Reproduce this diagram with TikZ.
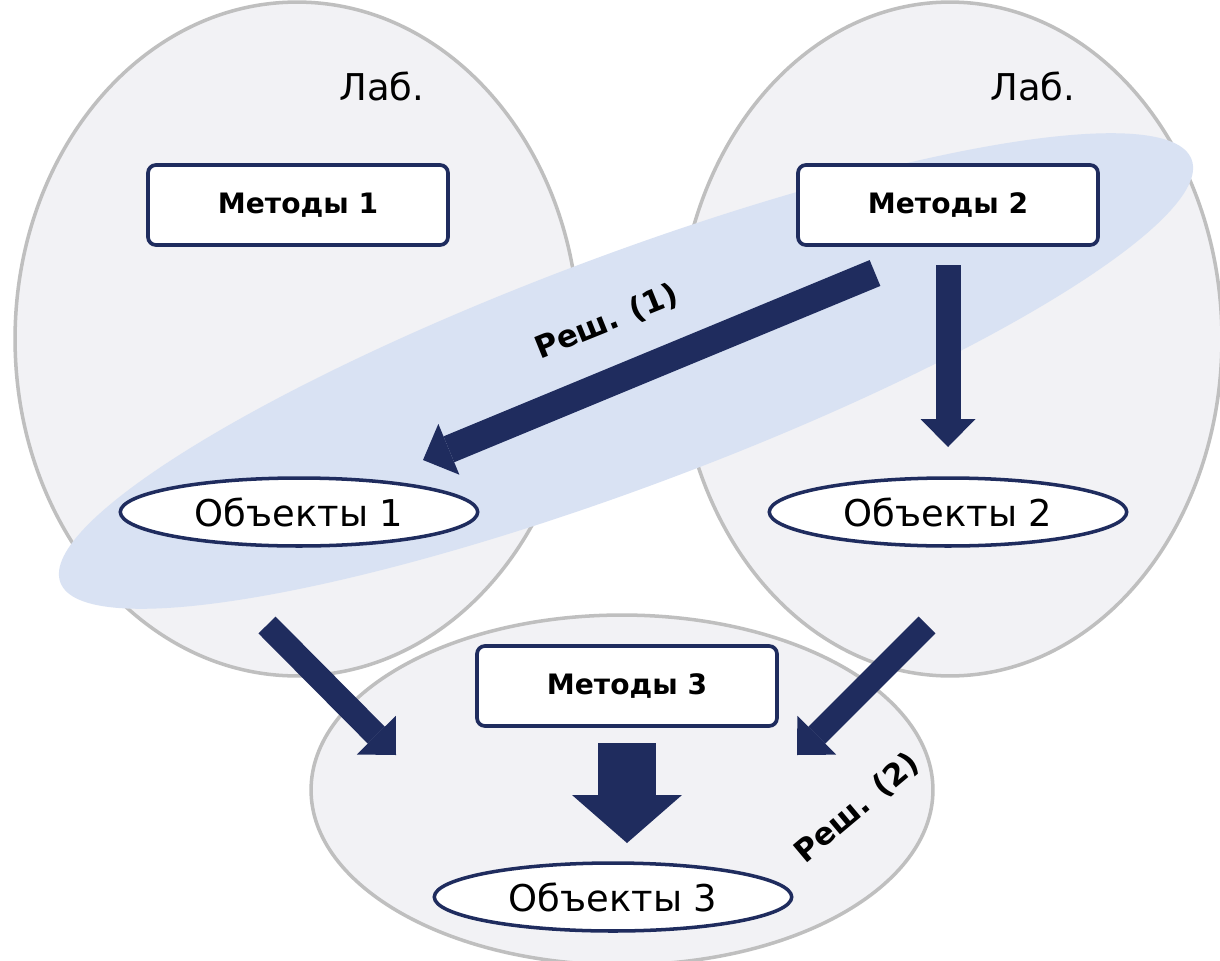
\documentclass[tikz,border=0pt]{standalone}
\usepackage{fontspec}
\setmainfont{DejaVu Sans}
\usetikzlibrary{arrows.meta, shapes.geometric, positioning}
\tikzstyle{lab_area}=[fill=LabFill]
\tikzstyle{lab_border}=[draw=LabLine, line width=2pt]
\tikzstyle{method_box}=[rectangle,
        minimum width=6.0cm,
        minimum height=1.6cm,
        draw=NavyLine,
        line width=2.1pt,
        fill=white,
        rounded corners=4.5pt,
        font=\fontsize{16}{19}\selectfont\bfseries]
\tikzstyle{object_ellipse}=[ellipse,
        minimum width=7.15cm,
        minimum height=1.36cm,
        inner sep=0pt,
        draw=NavyLine,
        line width=2pt,
        fill=white,
        font=\fontsize{21}{25}\selectfont]
\tikzstyle{lab_label}=[font=\fontsize{21}{25}\selectfont]
\tikzstyle{sol_label}=[font=\fontsize{17.5}{21}\selectfont\bfseries]
\tikzstyle{flow_arrow}=[draw=NavyLine, line width=0.5cm,
        -{Triangle[length=0.56cm, width=1.1cm, line width=0pt]}]
\tikzstyle{big_arrow}=[draw=NavyLine, line width=1.16cm,
        -{Triangle[length=0.96cm, width=2.2cm, line width=0pt]}]
\definecolor{LabFill}{HTML}{F2F2F5}
\definecolor{LabLine}{HTML}{BFBFBF}
\definecolor{SolFill}{HTML}{D9E2F3}
\definecolor{NavyLine}{HTML}{1F2C5E}

\begin{document}
\begin{tikzpicture}[x=0.02cm, y=-0.02cm]
    \useasboundingbox[fill=white] (0,0) rectangle (1220,960);

    % lab areas
    \coordinate (lab1) at (297,339);
    \coordinate (lab2) at (950,339);
    \coordinate (lab3) at (622,790);
    \fill[lab_area] (lab1) ellipse [x radius=5.64cm, y radius=6.74cm];
    \fill[lab_area] (lab2) ellipse [x radius=5.44cm, y radius=6.74cm];
    \fill[lab_area] (lab3) ellipse [x radius=6.22cm, y radius=3.5cm];
    \draw[lab_border] (lab1) ellipse [x radius=5.64cm, y radius=6.74cm];
    \draw[lab_border] (lab2) ellipse [x radius=5.44cm, y radius=6.74cm];
    \draw[lab_border] (lab3) ellipse [x radius=6.22cm, y radius=3.5cm];

    % solution (1)
    \coordinate (sol1) at (626,371);
    \fill[SolFill, rotate around={20.5:(sol1)}] (sol1) ellipse [x radius=12.08cm, y radius=2.32cm];

    \node at (382,86) (lab1_label) [lab_label] {Лаб.};
    \node at (1033,86) (lab2_label) [lab_label] {Лаб.};

    \node at (298,205) (M1) [method_box] {Методы 1};
    \node at (948,205) (M2) [method_box] {Методы 2};
    \node at (627,686) (M3) [method_box] {Методы 3};

    \node at (299,512) (O1) [object_ellipse] {Объекты 1};
    \node at (948,512) (O2) [object_ellipse] {Объекты 2};
    \node at (613,897) (O3) [object_ellipse] {Объекты 3};

    \coordinate (M2_out1) at (875,273);
    \coordinate (O1_in) at (423,460);
    \coordinate (M2_out2) at (948,265);
    \coordinate (O2_in) at (948,447);
    \coordinate (lab1_out) at (267,625);
    \coordinate (lab3_in1) at (396,755);
    \coordinate (lab2_out) at (927,625);
    \coordinate (lab3_in2) at (797,755);
    \coordinate (M3_out) at (627,743);
    \coordinate (O3_in) at (627,843);

    \draw[flow_arrow, line width=0.56cm] (M2_out1) -- (O1_in);
    \draw[flow_arrow] (M2_out2) -- (O2_in);
    \draw[flow_arrow, line width=0.48cm] (lab1_out) -- (lab3_in1);
    \draw[flow_arrow, line width=0.48cm] (lab2_out) -- (lab3_in2);
    \draw[big_arrow] (M3_out) -- (O3_in);

    \node at (607,322) (sol1_label) [sol_label, rotate=22] {Реш. (1)};
    \node at (857,808) (sol2_label) [sol_label, rotate=40] {Реш. (2)};

\end{tikzpicture}
\end{document}
